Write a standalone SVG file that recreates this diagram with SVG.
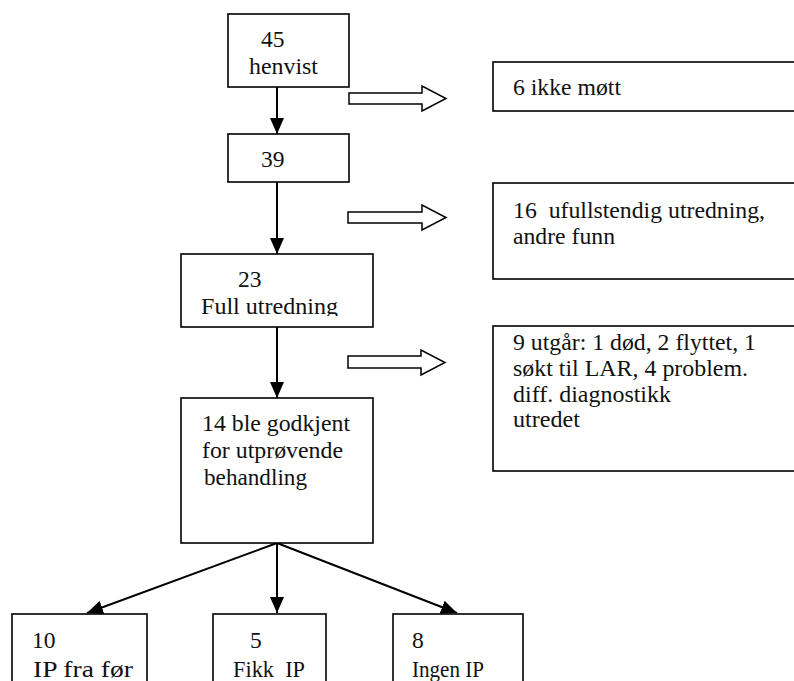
<svg xmlns="http://www.w3.org/2000/svg" width="794" height="681" viewBox="0 0 794 681">
<style>
.box{fill:#fff;stroke:#000;stroke-width:1.6}
.hol{fill:#fff;stroke:#000;stroke-width:1.5;stroke-linejoin:miter}
.con{fill:none;stroke:#000;stroke-width:2}
text{font-family:"Liberation Serif","Times New Roman","DejaVu Serif",serif;font-size:23.5px;fill:#111}
</style>
<defs>
<marker id="ah" markerWidth="16" markerHeight="14" refX="16" refY="7" orient="auto" markerUnits="userSpaceOnUse">
<path d="M0,0 L16,7 L0,14 Z" fill="#000"/>
</marker>
<clipPath id="clip23"><rect x="181" y="254" width="192" height="62"/></clipPath>
</defs>
<rect width="794" height="681" fill="#fff"/>

<g id="connectors">
<line class="con" x1="277" y1="87" x2="277" y2="134" marker-end="url(#ah)"/>
<line class="con" x1="277" y1="182" x2="277" y2="254" marker-end="url(#ah)"/>
<line class="con" x1="277" y1="327" x2="277" y2="398" marker-end="url(#ah)"/>
<line class="con" x1="277" y1="543" x2="87" y2="613" marker-end="url(#ah)"/>
<line class="con" x1="277" y1="543" x2="277" y2="613" marker-end="url(#ah)"/>
<line class="con" x1="277" y1="543" x2="457" y2="613" marker-end="url(#ah)"/>
<path class="hol" d="M349,93 L422,93 L422,86 L446,98.5 L422,111 L422,104 L349,104 Z"/>
<path class="hol" d="M348,212 L422,212 L422,205 L446,217.5 L422,230 L422,223 L348,223 Z"/>
<path class="hol" d="M348,356 L421,356 L421,350 L445,362.5 L421,375 L421,368 L348,368 Z"/>
</g>

<g id="n45">
<rect class="box" x="228" y="14" width="121" height="73"/>
<text x="261" y="47">45</text>
<text x="249" y="74" textLength="69" lengthAdjust="spacingAndGlyphs">henvist</text>
</g>

<g id="n39">
<rect class="box" x="228" y="134" width="121" height="48"/>
<text x="261" y="167">39</text>
</g>

<g id="n23">
<rect class="box" x="181" y="254" width="192" height="73"/>
<text x="238" y="287">23</text>
<text x="201" y="314" textLength="137" lengthAdjust="spacingAndGlyphs" clip-path="url(#clip23)">Full utredning</text>
</g>

<g id="n14">
<rect class="box" x="181" y="398" width="192" height="145"/>
<text x="202" y="431" textLength="148" lengthAdjust="spacingAndGlyphs">14 ble godkjent</text>
<text x="202" y="458" textLength="141" lengthAdjust="spacingAndGlyphs">for utprøvende</text>
<text x="204" y="485" textLength="103" lengthAdjust="spacingAndGlyphs">behandling</text>
</g>

<g id="n6">
<rect class="box" x="493" y="62" width="310" height="49"/>
<text x="513" y="95" textLength="108" lengthAdjust="spacingAndGlyphs">6 ikke møtt</text>
</g>

<g id="n16">
<rect class="box" x="493" y="183" width="310" height="96"/>
<text x="513" y="218" textLength="252" lengthAdjust="spacingAndGlyphs" xml:space="preserve">16  ufullstendig utredning,</text>
<text x="513" y="244" textLength="102" lengthAdjust="spacingAndGlyphs">andre funn</text>
</g>

<g id="n9">
<rect class="box" x="493" y="326" width="310" height="145"/>
<text x="513" y="350" textLength="243" lengthAdjust="spacingAndGlyphs">9 utgår: 1 død, 2 flyttet, 1</text>
<text x="513" y="376" textLength="235" lengthAdjust="spacingAndGlyphs">søkt til LAR, 4 problem.</text>
<text x="513" y="402" textLength="158" lengthAdjust="spacingAndGlyphs">diff. diagnostikk</text>
<text x="513" y="427" textLength="67" lengthAdjust="spacingAndGlyphs">utredet</text>
</g>

<g id="n10">
<rect class="box" x="12" y="614" width="135" height="80"/>
<text x="32" y="648">10</text>
<text x="33" y="677" textLength="100" lengthAdjust="spacingAndGlyphs">IP fra før</text>
</g>

<g id="n5">
<rect class="box" x="213" y="614" width="113" height="80"/>
<text x="250" y="648">5</text>
<text x="233" y="677" textLength="72" lengthAdjust="spacingAndGlyphs" xml:space="preserve">Fikk  IP</text>
</g>

<g id="n8">
<rect class="box" x="393" y="614" width="130" height="80"/>
<text x="412" y="648">8</text>
<text x="412" y="677" textLength="72" lengthAdjust="spacingAndGlyphs">Ingen IP</text>
</g>
</svg>
